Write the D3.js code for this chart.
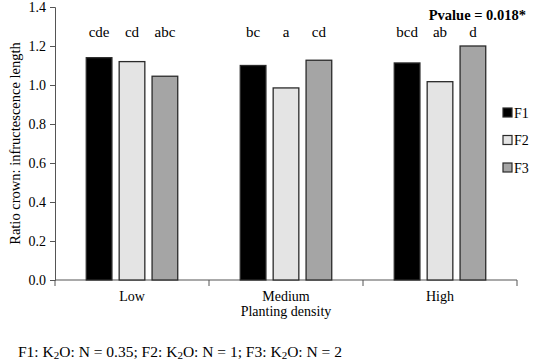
<!DOCTYPE html>
<html>
<head>
<meta charset="utf-8">
<script src="https://cdn.jsdelivr.net/npm/d3@7"></script>
<style>
  body { margin: 0; background: #fff; }
  svg text { font-family: "Liberation Serif", "Times New Roman", Times, "DejaVu Serif", serif !important; fill: #000; }
</style>
</head>
<body>
<div id="chart"></div>
<script>
"use strict";

// data
const densities = ["Low", "Medium", "High"];
const treatments = ["F1", "F2", "F3"];
const f1Values = [1.14, 1.10, 1.113];
const f2Values = [1.12, 0.985, 1.017];
const f3Values = [1.045, 1.127, 1.20];
const letters = [["cde", "cd", "abc"], ["bc", "a", "cd"], ["bcd", "ab", "d"]];
const yTicks = [0, 0.2, 0.4, 0.6, 0.8, 1.0, 1.2, 1.4];
const fills = ["#000000", "#e4e4e4", "#a5a5a5"];

const w = 536, h = 362;
const margin = { left: 55, right: 19, top: 7, bottom: 82 };
const serif = '"Liberation Serif", "Times New Roman", Times, "DejaVu Serif", serif';

const svg = d3.select("#chart").append("svg")
  .attr("width", w)
  .attr("height", h)
  .attr("font-family", serif);

const x = d3.scaleBand()
  .domain(densities)
  .range([margin.left, w - margin.right]);

const xInner = d3.scaleBand()
  .domain(treatments)
  .range([0, x.bandwidth()])
  .paddingInner(0.22)
  .paddingOuter(0.95);

const y = d3.scaleLinear()
  .domain([0, 1.4])
  .range([h - margin.bottom, margin.top]);

const rows = densities.map(function(d, i) {
  return {
    density: d,
    values: [f1Values[i], f2Values[i], f3Values[i]],
    letters: letters[i]
  };
});

// axes
const yAxis = svg.append("g")
  .attr("transform", `translate(${margin.left},0)`)
  .call(d3.axisLeft(y).tickValues(yTicks).tickFormat(d3.format(".1f")).tickSize(5).tickPadding(4));
yAxis.attr("font-family", serif).attr("font-size", 14);
yAxis.selectAll("path, line").attr("stroke", "#555");

const xAxisG = svg.append("g")
  .attr("transform", `translate(0,${y(0)})`);
xAxisG.append("line")
  .attr("x1", margin.left).attr("x2", w - margin.right)
  .attr("stroke", "#555");
const edges = [margin.left].concat(densities.map(function(d) { return x(d) + x.bandwidth(); }));
xAxisG.selectAll("line.tick")
  .data(edges)
  .enter().append("line")
  .attr("class", "tick")
  .attr("x1", function(d) { return d; })
  .attr("x2", function(d) { return d; })
  .attr("y1", 0).attr("y2", 6)
  .attr("stroke", "#555");
xAxisG.selectAll("text.cat")
  .data(densities)
  .enter().append("text")
  .attr("class", "cat")
  .attr("x", function(d) { return x(d) + x.bandwidth() / 2; })
  .attr("y", 21)
  .attr("text-anchor", "middle")
  .style("font-size", "14px")
  .text(function(d) { return d; });

// bars
const group = svg.selectAll("g.group")
  .data(rows)
  .enter().append("g")
  .attr("class", "group")
  .attr("transform", function(d) { return `translate(${x(d.density)},0)`; });

group.selectAll("rect")
  .data(function(d) { return d.values; })
  .enter().append("rect")
  .attr("x", function(d, i) { return xInner(treatments[i]); })
  .attr("y", function(d) { return y(d); })
  .attr("width", xInner.bandwidth())
  .attr("height", function(d) { return y(0) - y(d); })
  .attr("fill", function(d, i) { return fills[i]; })
  .attr("stroke", "#2a2a2a")
  .attr("stroke-width", 1.3);

group.selectAll("text.letter")
  .data(function(d) { return d.letters; })
  .enter().append("text")
  .attr("class", "letter")
  .attr("x", function(d, i) { return xInner(treatments[i]) + xInner.bandwidth() / 2; })
  .attr("y", 37)
  .attr("text-anchor", "middle")
  .style("font-size", "15px")
  .text(function(d) { return d; });

// p value
svg.append("text")
  .attr("x", 526)
  .attr("y", 20)
  .attr("text-anchor", "end")
  .style("font-size", "14.5px")
  .style("font-weight", "bold")
  .text("Pvalue = 0.018*");

// legend
const legend = svg.selectAll("g.legend")
  .data(treatments)
  .enter().append("g")
  .attr("class", "legend")
  .attr("transform", function(d, i) { return `translate(503,${108 + i * 27.5})`; });
legend.append("rect")
  .attr("width", 9).attr("height", 9)
  .attr("fill", function(d, i) { return fills[i]; })
  .attr("stroke", "#2a2a2a")
  .attr("stroke-width", 1.2);
legend.append("text")
  .attr("x", 11).attr("y", 9.5)
  .style("font-size", "14px")
  .text(function(d) { return d; });

// axis titles
svg.append("text")
  .attr("transform", `translate(20,${(y(0) + y(1.4)) / 2}) rotate(-90)`)
  .attr("text-anchor", "middle")
  .style("font-size", "14.5px")
  .text("Ratio crown: infructescence length");

svg.append("text")
  .attr("x", x("Medium") + x.bandwidth() / 2)
  .attr("y", 316)
  .attr("text-anchor", "middle")
  .style("font-size", "14px")
  .text("Planting density");

// footnote with subscripts
const foot = svg.append("text")
  .attr("x", 18)
  .attr("y", 357)
  .style("font-size", "15.5px");
const parts = [["F1: K", 0], ["2", 1], ["O: N = 0.35; F2: K", 0], ["2", 1],
  ["O: N = 1; F3: K", 0], ["2", 1], ["O: N = 2", 0]];
let shifted = 0;
parts.forEach(function(p) {
  const dy = p[1] ? 2 : -shifted;
  shifted = p[1] ? 2 : 0;
  foot.append("tspan")
    .attr("dy", dy || null)
    .style("font-size", p[1] ? "11px" : "15.5px")
    .text(p[0]);
});
</script>
</body>
</html>
